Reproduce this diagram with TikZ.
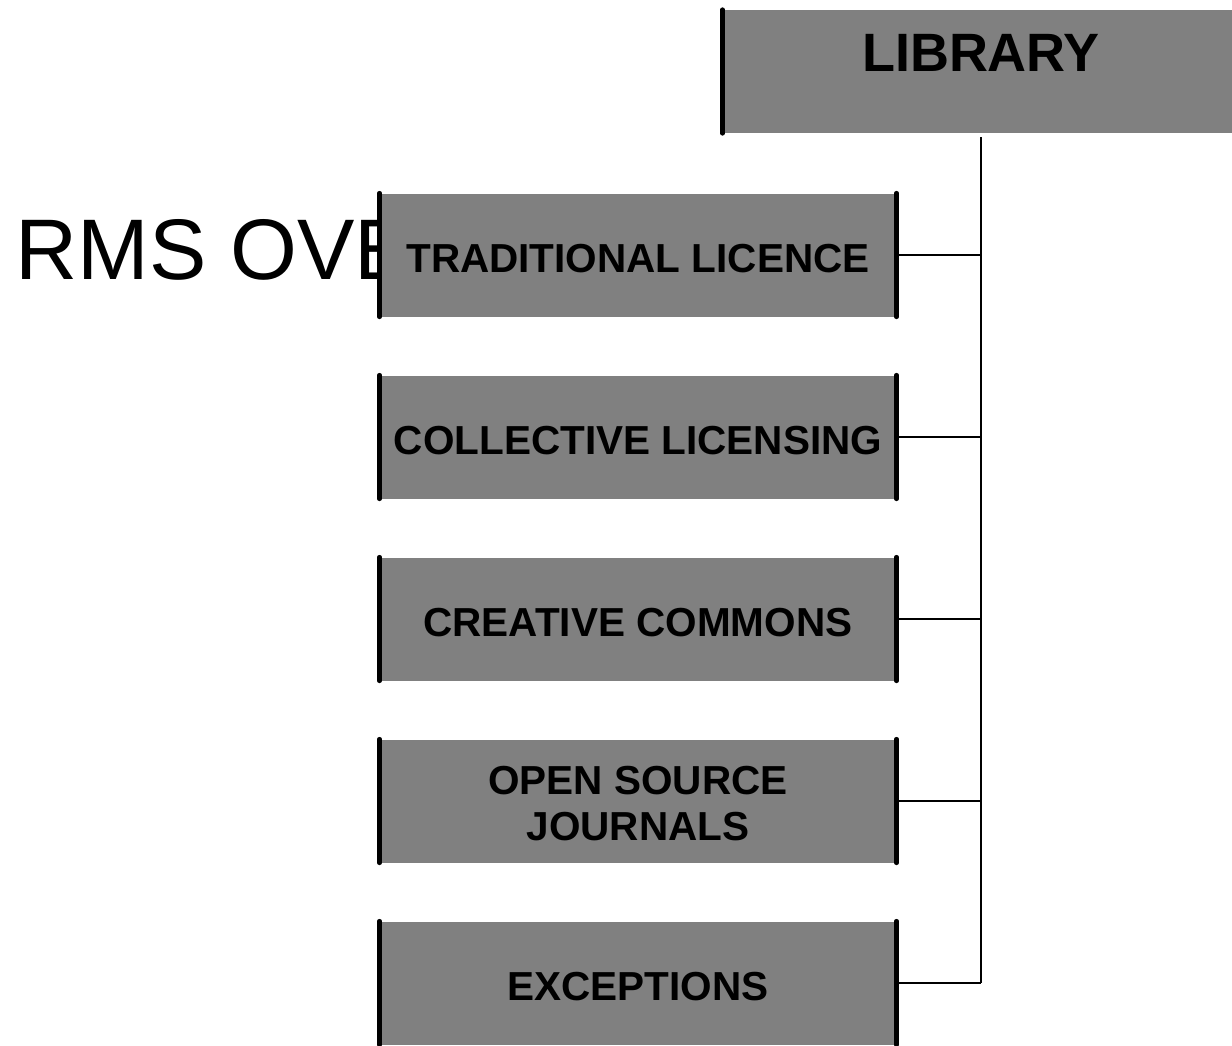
\documentclass[tikz,border=0pt]{standalone}
\usepackage{fontspec}
\setmainfont{Liberation Sans}
\definecolor{boxgray}{HTML}{808080}
\begin{document}
\begin{tikzpicture}[x=0.5pt,y=-0.5pt,
    box/.style={fill=boxgray,minimum width=258pt,minimum height=61.5pt,inner sep=0pt,align=center,
      text height=17.5pt,font=\fontsize{20.25}{23}\selectfont\bfseries},
    side/.style={line width=2.2pt,line cap=round},
    wire/.style={line width=0.8pt}]
  \clip (0,0) rectangle (1232,1045);
  \node [anchor=base west,inner sep=0pt,font=\fontsize{43}{50}\selectfont] (title) at (15,279) {RMS OVE};
  \node [box,font=\fontsize{27}{32}\selectfont\bfseries,text height=20pt,text depth=20pt] (lib) at (981,71.5) {LIBRARY};
  \node [box] (trad) at (638,255) {TRADITIONAL LICENCE};
  \node [box] (coll) at (638,437) {COLLECTIVE LICENSING};
  \node [box] (crea) at (638,619) {CREATIVE COMMONS};
  \node [box,text height=40pt] (open) at (638,801) {OPEN SOURCE\\JOURNALS};
  \node [box] (exce) at (638,983) {EXCEPTIONS};
  % box sides
  \draw [side] (lib.north west) -- (lib.south west);
  \foreach \n in {trad,coll,crea,open,exce}
    \draw [side] (\n.north west) -- (\n.south west) (\n.north east) -- (\n.south east);
  % tree lines
  \draw [line width=1pt] ([yshift=-2pt]lib.south) -- (lib.south |- exce.east);
  \foreach \n in {trad,coll,crea,open,exce}
    \draw [wire] (\n.east) -- (\n.east -| lib.south);
\end{tikzpicture}
\end{document}
